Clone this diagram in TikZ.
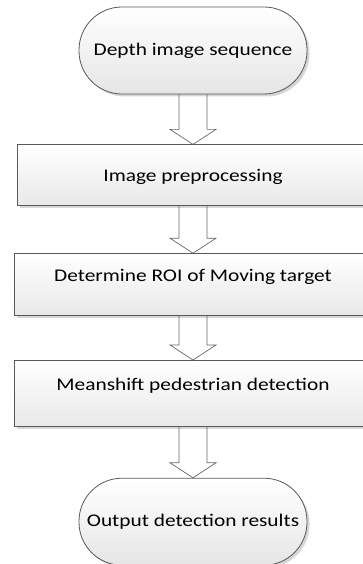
\documentclass[tikz,border=0pt]{standalone}
\usepackage{fontspec}
\setmainfont{Carlito}[FakeStretch=1.2]
\usetikzlibrary{positioning, calc, shadows}

\begin{document}
\begin{tikzpicture}[
    x=1pt, y=1pt,
    terminal/.style={rectangle, rounded corners=43pt, minimum width=228pt, minimum height=87pt, inner sep=0pt, text centered, draw=black!65, line width=0.8pt, top color=white, bottom color=black!10, drop shadow={shadow xshift=2.5pt, shadow yshift=-2.5pt, fill=black!16, opacity=1}, font=\fontsize{17.8}{20}\selectfont},
    process/.style={rectangle, minimum width=358pt, inner sep=0pt, text centered, draw=black!65, line width=0.8pt, top color=white, bottom color=black!9, drop shadow={shadow xshift=2.5pt, shadow yshift=-2.5pt, fill=black!16, opacity=1}, font=\fontsize{17.8}{20}\selectfont},
    blockarrow/.style={draw=black!60, line width=0.7pt, to path={let \p1=(\tikztostart), \p2=(\tikztotarget) in
        (\x1-14pt,\y1) -- (\x1-14pt,\y2+15pt) -- (\x1-23pt,\y2+15pt) -- (\x1,\y2) -- (\x1+23pt,\y2+15pt) -- (\x1+14pt,\y2+15pt) -- (\x1+14pt,\y1)}},
]
    \useasboundingbox (0,0) rectangle (363,-564);

    % start / end
    \node (start) [terminal] at (193,-50.5) {Depth image sequence};

    \node (prep) [process, below=50pt of start, minimum width=352pt, text height=37pt, text depth=24pt] {Image preprocessing};
    \node (roi) [process, below=47pt of prep, text height=28pt, text depth=34pt] {Determine ROI of Moving target};
    \node (meanshift) [process, below=44pt of roi, text height=30pt, text depth=36pt] {Meanshift pedestrian detection};

    \node (output) [terminal, below=51pt of meanshift] {Output detection results};

    \draw [blockarrow] (start.south) to (prep.north);
    \draw [blockarrow] (prep.south) to (roi.north);
    \draw [blockarrow] (roi.south) to (meanshift.north);
    \draw [blockarrow] (meanshift.south) to (output.north);

\end{tikzpicture}
\end{document}
